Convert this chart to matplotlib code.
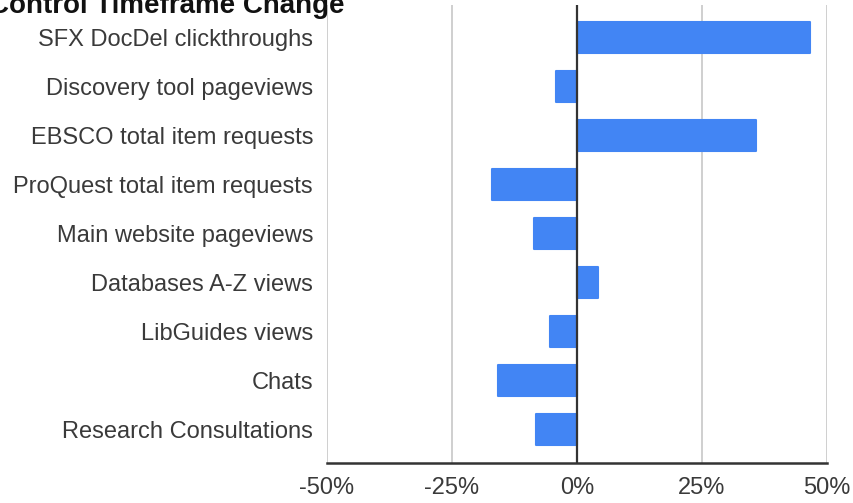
import matplotlib
matplotlib.use("Agg")
import matplotlib.pyplot as plt
from matplotlib.ticker import FuncFormatter

categories = [
    "SFX DocDel clickthroughs",
    "Discovery tool pageviews",
    "EBSCO total item requests",
    "ProQuest total item requests",
    "Main website pageviews",
    "Databases A-Z views",
    "LibGuides views",
    "Chats",
    "Research Consultations",
]
changes = [46.7, -4.1, 35.9, -16.9, -8.5, 4.3, -5.3, -15.7, -8.1]
xticks = [-50, -25, 0, 25, 50]
title = "Control Timeframe Change"

plt.rcParams['font.family'] = ['Liberation Sans', 'DejaVu Sans']

W, H = 854, 503
fig = plt.figure(figsize=(W / 100, H / 100), dpi=100)
ax = fig.add_axes([327 / W, 1 - 463 / H, 500 / W, 458 / H])

ypos = list(range(len(categories)))
ax.barh(ypos, changes, height=0.63, color="#4285F4", edgecolor="#4285F4",
        linewidth=1.5, joinstyle="round", zorder=3)

ax.set_xlim(-50, 50)
ax.set_ylim(8.68, -0.66)
ax.set_xticks(xticks)
ax.xaxis.set_major_formatter(FuncFormatter(lambda v, p: f"{int(v)}%"))
ax.set_yticks(ypos)
ax.set_yticklabels(categories)

for v in xticks:
    if v != 0:
        ax.axvline(v, color="#cccccc", linewidth=1.3, zorder=1)
ax.axvline(0, color="#333333", linewidth=1.6, zorder=4)

for s in ["top", "right", "left"]:
    ax.spines[s].set_visible(False)
ax.spines["bottom"].set_color("#333333")
ax.spines["bottom"].set_linewidth(1.8)
ax.spines["bottom"].set_zorder(5)

ax.tick_params(axis="both", length=0, labelsize=17, labelcolor="#3a3a3a")
ax.tick_params(axis="y", pad=10)
ax.tick_params(axis="x", pad=10)

fig.text(345 / W, 1 - 13 / H, title, ha="right", va="baseline",
         fontsize=20, fontweight="bold", color="#111111")

fig.savefig("out.png", dpi=100)
